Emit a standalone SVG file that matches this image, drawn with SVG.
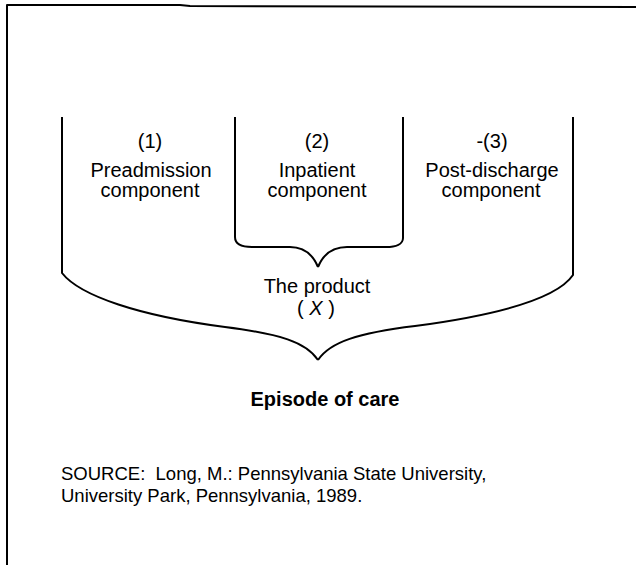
<svg xmlns="http://www.w3.org/2000/svg" width="636" height="565" viewBox="0 0 636 565">
<style>
  .ln { fill: none; stroke: #000; stroke-width: 2; stroke-linejoin: round; stroke-linecap: butt; }
  .t { font-family: "Liberation Sans", Arial, sans-serif; font-size: 20px; fill: #000; text-anchor: middle; }
  .b { font-weight: bold; }
  .src { font-family: "Liberation Sans", Arial, sans-serif; font-size: 18.5px; fill: #000; white-space: pre; }
</style>
<rect x="0" y="0" width="636" height="565" fill="#fff"/>
<g id="frame">
  <path class="ln" d="M7,565 V5 H180 L190,6 L636,7"/>
</g>
<g id="connectors">
  <path class="ln" d="M62,117 V273 C80,296 140,316 225,327 C280,334 306,342 318,360"/>
  <path class="ln" d="M573,117 V275 C556,300 490,316 415,326 C358,333 330,342 318,360"/>
  <path class="ln" d="M235,117 V237 C235,244 242,247 252,247 H290 C305,247 313,255 318,267"/>
  <path class="ln" d="M403,117 V238 C403,244 396,247 386,247 H347 C332,247 323,255 318,267"/>
</g>
<g id="preadmission">
  <text class="t" x="150" y="148">(1)</text>
  <text class="t" x="151" y="177">Preadmission</text>
  <text class="t" x="150" y="197">component</text>
</g>
<g id="inpatient">
  <text class="t" x="317" y="148">(2)</text>
  <text class="t" x="317" y="177">Inpatient</text>
  <text class="t" x="317" y="197">component</text>
</g>
<g id="postdischarge">
  <text class="t" x="492" y="148">-(3)</text>
  <text class="t" x="492" y="177">Post-discharge</text>
  <text class="t" x="491" y="197">component</text>
</g>
<g id="product">
  <text class="t" x="317" y="293">The product</text>
  <text class="t" x="316" y="315">( <tspan font-style="italic">X</tspan> )</text>
</g>
<g id="episode">
  <text class="t b" x="325" y="406">Episode of care</text>
</g>
<g id="source">
  <text class="src" x="61" y="480" xml:space="preserve">SOURCE:  Long, M.: Pennsylvania State University,</text>
  <text class="src" x="61" y="502">University Park, Pennsylvania, 1989.</text>
</g>
</svg>
